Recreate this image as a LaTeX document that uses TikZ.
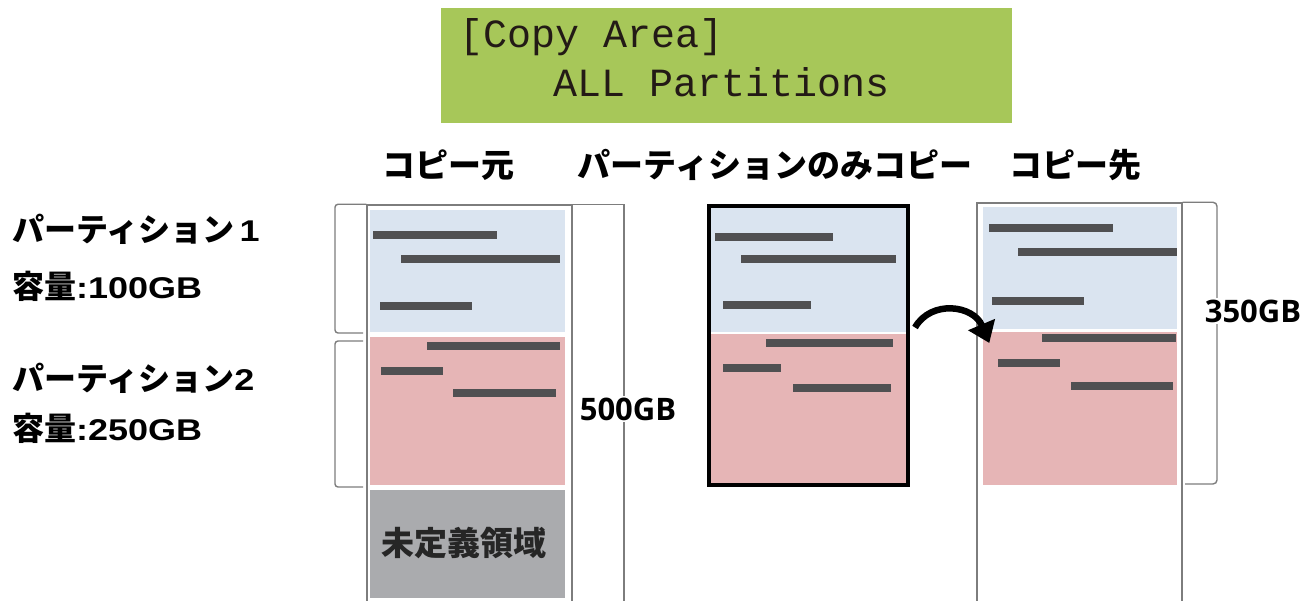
\documentclass[tikz,border=0pt]{standalone}
\usepackage{fontspec}
\usetikzlibrary{arrows.meta,calc,positioning}
\newfontfamily\jpfont{Noto Sans CJK JP}
\newfontfamily\latfont{Liberation Sans}[FakeStretch=1.2]
\newfontfamily\gbfont{Open Sans}
\newfontfamily\lcdfont{Liberation Mono}
\newcommand{\lat}[1]{{\latfont\bfseries\fontsize{30}{30}\selectfont #1}}
\definecolor{lcdgreen}{RGB}{167,199,89}
\definecolor{lcdink}{RGB}{35,26,22}
\definecolor{partblue}{RGB}{218,228,240}
\definecolor{partpink}{RGB}{230,181,182}
\definecolor{undefgray}{RGB}{170,171,174}
\definecolor{bargray}{RGB}{80,80,82}
\definecolor{rulegray}{RGB}{125,125,125}
\tikzset{
  lbl/.style={font=\jpfont\bfseries\fontsize{32}{32}\selectfont, anchor=west, inner sep=0pt},
  ttl/.style={font=\jpfont\bfseries\fontsize{33}{33}\selectfont, inner sep=0pt},
  lcdtxt/.style={font=\lcdfont\fontsize{40}{40}\selectfont, text=lcdink, anchor=base west, inner sep=0pt},
  gbsize/.style={font=\gbfont\bfseries\fontsize{31}{31}\selectfont, fill=white, inner sep=2pt},
  bar/.style={draw=bargray, line width=8.5pt},
  brk/.style={draw=rulegray, line width=1.4pt},
  disk/.style={draw=rulegray, line width=1.4pt, inner sep=0pt}
}
\begin{document}
\begin{tikzpicture}[x=1pt,y=-1pt]
\clip (0,0) rectangle (1312,601);
\fill[white] (0,0) rectangle (1312,601);
% LCD display
\node[fill=lcdgreen, minimum width=571pt, minimum height=115pt, inner sep=0pt] (lcd) at (726.5,65.5) {};
\node[lcdtxt] (lcd1) at ($(lcd.north west)+(18,40)$) {[Copy Area]};
\node[lcdtxt] (lcd2) at ($(lcd.north west)+(112,89)$) {ALL Partitions};
% column titles
\node[ttl] (tsrc) at (448,165) {コピー元};
\node[ttl] (tmid) at (775,165) {パーティションのみコピー};
\node[ttl] (tdst) at (1075,165) {コピー先};
% partition labels
\node[lbl] (p1) at (12,229) {パーティション\,\lat{1}};
\node[lbl] (c1) at (12,286) {容量\lat{:100GB}};
\node[lbl] (p2) at (12,378) {パーティション\lat{2}};
\node[lbl] (c2) at (12,428) {容量\lat{:250GB}};
% source disk
\fill[partblue] (370,210) rectangle (565,332);
\fill[partpink] (370,337) rectangle (565,485);
\fill[undefgray] (370,490) rectangle (565,598);
\node[disk, minimum width=205pt, minimum height=400pt] (src) at (469.5,405) {};
\node[font=\jpfont\bfseries\fontsize{33}{33}\selectfont, text=black!85] (undef) at (464,543) {未定義領域};
% copied partitions only
\fill[partblue] (711,208) rectangle (906,332);
\fill[partpink] (711,334) rectangle (906,483);
\node[draw=black, line width=4pt, minimum width=199pt, minimum height=279pt, inner sep=0pt] (mid) at (808.5,345.5) {};
% destination disk
\fill[partblue] (983,207) rectangle (1177,329);
\fill[partpink] (983,332) rectangle (1177,485);
\node[disk, minimum width=205pt, minimum height=402pt] (dst) at (1079.5,404) {};
% data bars
\foreach \xa/\xb/\y in {373/497/235, 401/560/259, 380/472/306, 427/560/346, 381/443/371, 453/556/393,
  715/833/237, 741/896/259, 723/811/305, 766/893/343, 723/781/368, 793/891/388,
  989/1113/228, 1018/1177/252, 992/1084/301, 1042/1176/338, 998/1060/363, 1071/1173/386}
  \draw[bar] (\xa,\y) -- (\xb,\y);
% brackets
\draw[brk, rounded corners=3pt] (src.north west) -| (335,333) -- (363,333);
\draw[brk, rounded corners=3pt] (363,341) -| (335,487) -- (363,487);
\draw[brk] (src.north east) -| (624,605);
\node[gbsize] (s500) at (628,409) {500GB};
\draw[brk, rounded corners=4pt] (dst.north east) -| (1217,484) -- (1185,484);
\node[gbsize] (s350) at (1253,311) {350GB};
% copy arrow
\coordinate (cpyS) at ($(mid.east)+(5,-18)$);
\coordinate (cpyE) at ($(dst.west)+(13,-61)$);
\draw[line width=6.5pt, -{Triangle[length=20pt,width=28pt]}] (cpyS) .. controls +(16,-28) and +(-16,-38) .. (cpyE);
\end{tikzpicture}
\end{document}
